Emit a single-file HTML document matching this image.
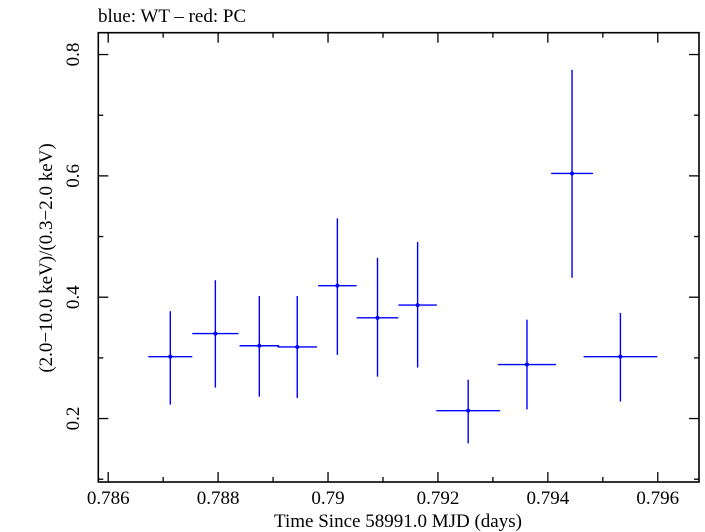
<!DOCTYPE html>
<html><head><meta charset="utf-8"><style>
html,body{margin:0;padding:0;background:#fff;}
svg{display:block;font-family:"Liberation Serif","DejaVu Serif",serif;}
</style></head><body>
<svg id="chart" width="705" height="532" viewBox="0 0 705 532" xmlns="http://www.w3.org/2000/svg">
<text x="98" y="22" font-size="19">blue: WT – red: PC</text>
<rect x="98.3" y="32.7" width="600.7" height="449.3" fill="none" stroke="#000" stroke-width="1.6"/>
<g id="axes"></g>
<g id="series"></g>
<text x="398" y="527" font-size="19" text-anchor="middle">Time Since 58991.0 MJD (days)</text>
<text transform="translate(52,258) rotate(-90)" font-size="19" text-anchor="middle">(2.0−10.0 keV)/(0.3−2.0 keV)</text>
</svg>
<script>
const xTicks=[0.786,0.788,0.79,0.792,0.794,0.796];
const xTickLabels=["0.786","0.788","0.79","0.792","0.794","0.796"];
const xMinor=[0.787,0.789,0.791,0.793,0.795];
const yTicks=[0.2,0.4,0.6,0.8];
const yTickLabels=["0.2","0.4","0.6","0.8"];
const yMinor=[0.1,0.3,0.5,0.7];
const times=[0.78713,0.78795,0.78875,0.78944,0.79017,0.7909,0.79163,0.79255,0.79362,0.79444,0.79532];
const timeErr=[0.0004,0.00042,0.00036,0.00036,0.00035,0.00038,0.00035,0.00058,0.00053,0.00038,0.00067];
const ratios=[0.302,0.340,0.320,0.318,0.419,0.366,0.387,0.213,0.289,0.604,0.302];
const ratioHi=[0.377,0.428,0.402,0.402,0.530,0.465,0.491,0.264,0.363,0.775,0.374];
const ratioLo=[0.223,0.251,0.236,0.234,0.305,0.269,0.284,0.159,0.215,0.432,0.228];

const L=98.3,R=699,T=32.7,B=482;
const xMin=0.78582,xMax=0.79675,yMin=0.0954,yMax=0.836;
function sx(v){return L+(v-xMin)/(xMax-xMin)*(R-L);}
function sy(v){return B-(v-yMin)/(yMax-yMin)*(B-T);}
const NS="http://www.w3.org/2000/svg";
function mk(tag,attrs,parent){const e=document.createElementNS(NS,tag);for(const k in attrs)e.setAttribute(k,attrs[k]);parent.appendChild(e);return e;}
const ax=document.getElementById('axes');
xTicks.forEach((v,i)=>{
  const x=sx(v);
  const t1=mk('line',{x1:x,x2:x,y1:B,y2:B-10,stroke:'#000','stroke-width':1.3},ax);
  
  
  const t2=mk('line',{x1:x,x2:x,y1:T,y2:T+10,stroke:'#000','stroke-width':1.3},ax);
  
  
  const tx=mk('text',{x:x,y:504,'font-size':19,'text-anchor':'middle'},ax);
  tx.textContent=xTickLabels[i];
  
  
});
xMinor.forEach(v=>{
  const x=sx(v);
  const a=mk('line',{x1:x,x2:x,y1:B,y2:B-5,stroke:'#000','stroke-width':1.3},ax);
  
  
  const b=mk('line',{x1:x,x2:x,y1:T,y2:T+5,stroke:'#000','stroke-width':1.3},ax);
  
  
});
yTicks.forEach((v,i)=>{
  const y=sy(v);
  const a=mk('line',{x1:L,x2:L+10,y1:y,y2:y,stroke:'#000','stroke-width':1.3},ax);
  
  
  const b=mk('line',{x1:R,x2:R-10,y1:y,y2:y,stroke:'#000','stroke-width':1.3},ax);
  
  
  const tx=mk('text',{transform:`translate(79,${y}) rotate(-90)`,'font-size':19,'text-anchor':'middle'},ax);
  tx.textContent=yTickLabels[i];
  
  
});
yMinor.forEach(v=>{
  const y=sy(v);
  const a=mk('line',{x1:L,x2:L+5,y1:y,y2:y,stroke:'#000','stroke-width':1.3},ax);
  
  
  const b=mk('line',{x1:R,x2:R-5,y1:y,y2:y,stroke:'#000','stroke-width':1.3},ax);
  
  
});
const sg=document.getElementById('series');
times.forEach((t,i)=>{
  const g=mk('g',{},sg);
  
  
  const x=sx(t),y=sy(ratios[i]);
  mk('line',{x1:sx(t-timeErr[i]),x2:sx(t+timeErr[i]),y1:y,y2:y,stroke:'#0000ff','stroke-width':1.4},g);
  mk('line',{x1:x,x2:x,y1:sy(ratioHi[i]),y2:sy(ratioLo[i]),stroke:'#0000ff','stroke-width':1.4},g);
  mk('circle',{cx:x,cy:y,r:2,fill:'#0000ff'},g);
});
</script>
</body></html>
